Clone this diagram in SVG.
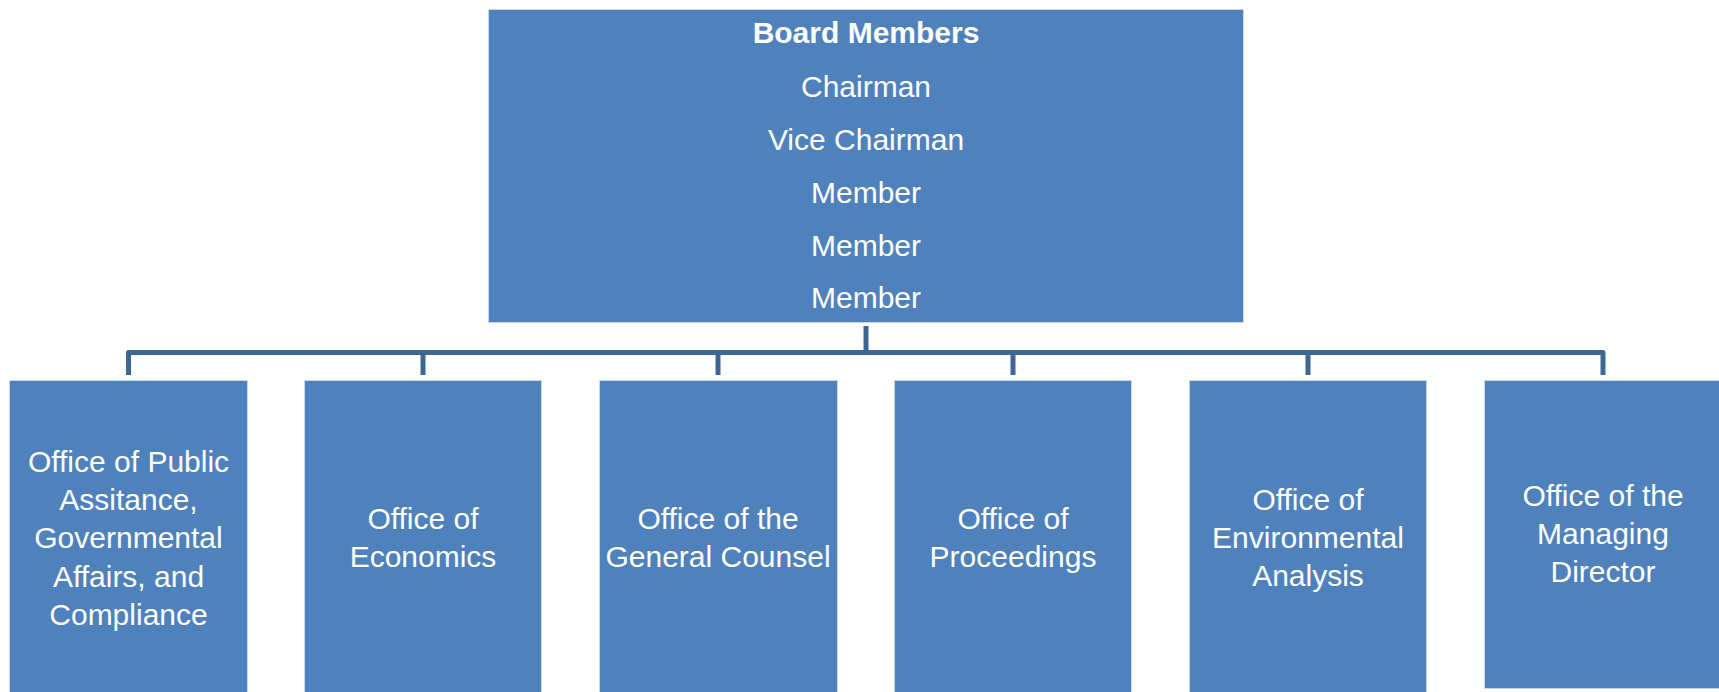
<svg xmlns="http://www.w3.org/2000/svg" width="1719" height="692" viewBox="0 0 1719 692">
<style>
.box{fill:#4f81bd;stroke:#c9d7ea;stroke-width:1}
.t{font-family:"Liberation Sans",Arial,sans-serif;font-size:30px;fill:#ffffff;text-anchor:middle}
.b{font-weight:bold}
.c{fill:none;stroke:#3e6695;stroke-width:5;stroke-linejoin:round}
</style>
<rect width="1719" height="692" fill="#ffffff"/>
<g id="connectors">
<path class="c" d="M866 326V352.5"/>
<path class="c" d="M128.5 375V352.5H1603V375"/>
<path class="c" d="M423 352.5V375M718 352.5V375M1013 352.5V375M1308 352.5V375"/>
</g>
<g id="board">
<rect class="box" x="488.5" y="9.5" width="755" height="313"/>
<text class="t b" x="866" y="43">Board Members</text>
<text class="t" x="866" y="97">Chairman</text>
<text class="t" x="866" y="150">Vice Chairman</text>
<text class="t" x="866" y="203">Member</text>
<text class="t" x="866" y="256">Member</text>
<text class="t" x="866" y="308">Member</text>
</g>
<g id="public">
<rect class="box" x="9.5" y="380.5" width="238" height="320"/>
<text class="t" x="128.5" y="472">Office of Public</text>
<text class="t" x="128.5" y="510">Assitance,</text>
<text class="t" x="128.5" y="548">Governmental</text>
<text class="t" x="128.5" y="587">Affairs, and</text>
<text class="t" x="128.5" y="625">Compliance</text>
</g>
<g id="economics">
<rect class="box" x="304.5" y="380.5" width="237" height="320"/>
<text class="t" x="423" y="529">Office of</text>
<text class="t" x="423" y="567">Economics</text>
</g>
<g id="counsel">
<rect class="box" x="599.5" y="380.5" width="238" height="320"/>
<text class="t" x="718" y="529">Office of the</text>
<text class="t" x="718" y="567">General Counsel</text>
</g>
<g id="proceedings">
<rect class="box" x="894.5" y="380.5" width="237" height="320"/>
<text class="t" x="1013" y="529">Office of</text>
<text class="t" x="1013" y="567">Proceedings</text>
</g>
<g id="environmental">
<rect class="box" x="1189.5" y="380.5" width="237" height="320"/>
<text class="t" x="1308" y="510">Office of</text>
<text class="t" x="1308" y="548">Environmental</text>
<text class="t" x="1308" y="586">Analysis</text>
</g>
<g id="managing">
<rect class="box" x="1484.5" y="380.5" width="240" height="308"/>
<text class="t" x="1603" y="506">Office of the</text>
<text class="t" x="1603" y="544">Managing</text>
<text class="t" x="1603" y="582">Director</text>
</g>
</svg>
